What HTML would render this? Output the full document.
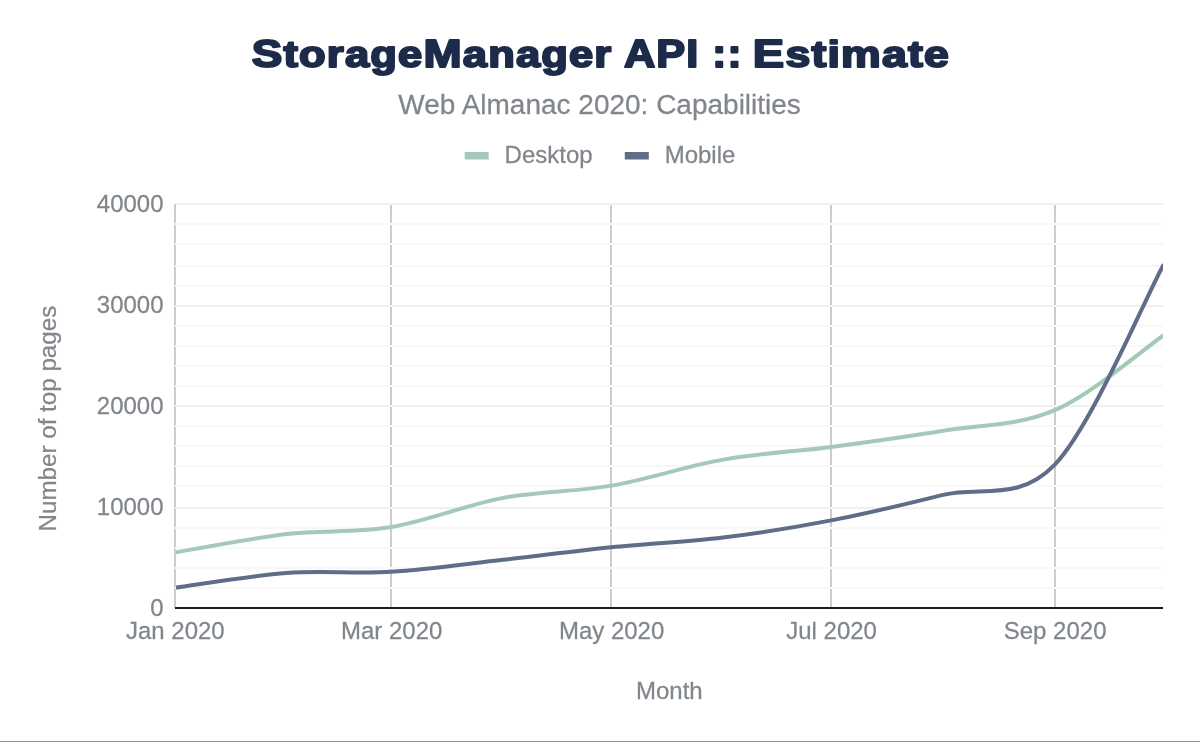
<!DOCTYPE html>
<html><head><meta charset="utf-8"><style>
html,body{margin:0;padding:0;background:#fff;}
body{width:1200px;height:742px;overflow:hidden;position:relative;}
svg{position:absolute;left:0;top:0;will-change:transform;}
text{font-family:"Liberation Sans",sans-serif;}
</style></head><body>
<svg width="1200" height="742" viewBox="0 0 1200 742">
<rect x="0" y="0" width="1200" height="742" fill="#fff"/>
<text transform="translate(251.63,67.3) scale(1.1760,1)" x="0" y="0" font-size="37" font-weight="bold" fill="#1c2b49" stroke="#1c2b49" stroke-width="2.0" stroke-linejoin="round" letter-spacing="1.0"><tspan font-size="39">S</tspan>torage<tspan font-size="39">M</tspan>anager</text>
<text transform="translate(623.96,67.3) scale(1.1104,1)" x="0" y="0" font-size="37" font-weight="bold" fill="#1c2b49" stroke="#1c2b49" stroke-width="2.0" stroke-linejoin="round" letter-spacing="1.0"><tspan font-size="39">A</tspan><tspan font-size="39">P</tspan><tspan font-size="39">I</tspan></text>
<text transform="translate(712.35,67.3) scale(1.0743,1)" x="0" y="0" font-size="37" font-weight="bold" fill="#1c2b49" stroke="#1c2b49" stroke-width="2.0" stroke-linejoin="round" letter-spacing="1.0"><tspan font-size="39">:</tspan><tspan font-size="39">:</tspan></text>
<text transform="translate(752.81,67.3) scale(1.2060,1)" x="0" y="0" font-size="37" font-weight="bold" fill="#1c2b49" stroke="#1c2b49" stroke-width="2.0" stroke-linejoin="round" letter-spacing="1.0"><tspan font-size="39">E</tspan>stimate</text>

<g fill="#80868b" stroke="#80868b" stroke-width="0.25"><text transform="translate(599.60,114.00) scale(0.9852,1)" x="0" y="0" font-size="28.42" text-anchor="middle">Web Almanac 2020: Capabilities</text></g>
<rect x="464.7" y="152" width="24" height="7.5" fill="#a5c9b8"/>
<g fill="#80868b" stroke="#80868b" stroke-width="0.25"><text transform="translate(504.60,162.60) scale(0.9852,1)" x="0" y="0" font-size="24.36" text-anchor="start">Desktop</text></g>
<rect x="624.8" y="152" width="24" height="7.5" fill="#5f6d88"/>
<g fill="#80868b" stroke="#80868b" stroke-width="0.25"><text transform="translate(664.70,162.60) scale(0.9852,1)" x="0" y="0" font-size="24.36" text-anchor="start">Mobile</text></g>
<g stroke="#c9cdcc" stroke-width="2"><line x1="391.00" x2="391.00" y1="204.0" y2="608.0"/><line x1="611.00" x2="611.00" y1="204.0" y2="608.0"/><line x1="831.00" x2="831.00" y1="204.0" y2="608.0"/><line x1="1055.00" x2="1055.00" y1="204.0" y2="608.0"/></g>
<g stroke="#f7f7f7" stroke-width="2"><line x1="175.0" x2="1163.0" y1="588" y2="588"/><line x1="175.0" x2="1163.0" y1="568" y2="568"/><line x1="175.0" x2="1163.0" y1="548" y2="548"/><line x1="175.0" x2="1163.0" y1="528" y2="528"/><line x1="175.0" x2="1163.0" y1="486" y2="486"/><line x1="175.0" x2="1163.0" y1="466" y2="466"/><line x1="175.0" x2="1163.0" y1="446" y2="446"/><line x1="175.0" x2="1163.0" y1="426" y2="426"/><line x1="175.0" x2="1163.0" y1="386" y2="386"/><line x1="175.0" x2="1163.0" y1="366" y2="366"/><line x1="175.0" x2="1163.0" y1="346" y2="346"/><line x1="175.0" x2="1163.0" y1="326" y2="326"/><line x1="175.0" x2="1163.0" y1="286" y2="286"/><line x1="175.0" x2="1163.0" y1="266" y2="266"/><line x1="175.0" x2="1163.0" y1="244" y2="244"/><line x1="175.0" x2="1163.0" y1="224" y2="224"/></g>
<g stroke="#eff0f0" stroke-width="2"><line x1="175.0" x2="1163.0" y1="508" y2="508"/><line x1="175.0" x2="1163.0" y1="406" y2="406"/><line x1="175.0" x2="1163.0" y1="306" y2="306"/><line x1="175.0" x2="1163.0" y1="204" y2="204"/></g>
<line x1="175.0" x2="175.0" y1="204.0" y2="608.0" stroke="#c9cdcc" stroke-width="2"/>
<rect x="390" y="587" width="2" height="2" fill="#fdfdfd"/><rect x="610" y="587" width="2" height="2" fill="#fdfdfd"/><rect x="830" y="587" width="2" height="2" fill="#fdfdfd"/><rect x="1054" y="587" width="2" height="2" fill="#fdfdfd"/><rect x="175" y="587" width="1" height="2" fill="#fdfdfd"/><rect x="390" y="567" width="2" height="2" fill="#fdfdfd"/><rect x="610" y="567" width="2" height="2" fill="#fdfdfd"/><rect x="830" y="567" width="2" height="2" fill="#fdfdfd"/><rect x="1054" y="567" width="2" height="2" fill="#fdfdfd"/><rect x="175" y="567" width="1" height="2" fill="#fdfdfd"/><rect x="390" y="547" width="2" height="2" fill="#fdfdfd"/><rect x="610" y="547" width="2" height="2" fill="#fdfdfd"/><rect x="830" y="547" width="2" height="2" fill="#fdfdfd"/><rect x="1054" y="547" width="2" height="2" fill="#fdfdfd"/><rect x="175" y="547" width="1" height="2" fill="#fdfdfd"/><rect x="390" y="527" width="2" height="2" fill="#fdfdfd"/><rect x="610" y="527" width="2" height="2" fill="#fdfdfd"/><rect x="830" y="527" width="2" height="2" fill="#fdfdfd"/><rect x="1054" y="527" width="2" height="2" fill="#fdfdfd"/><rect x="175" y="527" width="1" height="2" fill="#fdfdfd"/><rect x="390" y="507" width="2" height="2" fill="#f5f6f6"/><rect x="610" y="507" width="2" height="2" fill="#f5f6f6"/><rect x="830" y="507" width="2" height="2" fill="#f5f6f6"/><rect x="1054" y="507" width="2" height="2" fill="#f5f6f6"/><rect x="175" y="507" width="1" height="2" fill="#f5f6f6"/><rect x="390" y="485" width="2" height="2" fill="#fdfdfd"/><rect x="610" y="485" width="2" height="2" fill="#fdfdfd"/><rect x="830" y="485" width="2" height="2" fill="#fdfdfd"/><rect x="1054" y="485" width="2" height="2" fill="#fdfdfd"/><rect x="175" y="485" width="1" height="2" fill="#fdfdfd"/><rect x="390" y="465" width="2" height="2" fill="#fdfdfd"/><rect x="610" y="465" width="2" height="2" fill="#fdfdfd"/><rect x="830" y="465" width="2" height="2" fill="#fdfdfd"/><rect x="1054" y="465" width="2" height="2" fill="#fdfdfd"/><rect x="175" y="465" width="1" height="2" fill="#fdfdfd"/><rect x="390" y="445" width="2" height="2" fill="#fdfdfd"/><rect x="610" y="445" width="2" height="2" fill="#fdfdfd"/><rect x="830" y="445" width="2" height="2" fill="#fdfdfd"/><rect x="1054" y="445" width="2" height="2" fill="#fdfdfd"/><rect x="175" y="445" width="1" height="2" fill="#fdfdfd"/><rect x="390" y="425" width="2" height="2" fill="#fdfdfd"/><rect x="610" y="425" width="2" height="2" fill="#fdfdfd"/><rect x="830" y="425" width="2" height="2" fill="#fdfdfd"/><rect x="1054" y="425" width="2" height="2" fill="#fdfdfd"/><rect x="175" y="425" width="1" height="2" fill="#fdfdfd"/><rect x="390" y="405" width="2" height="2" fill="#f5f6f6"/><rect x="610" y="405" width="2" height="2" fill="#f5f6f6"/><rect x="830" y="405" width="2" height="2" fill="#f5f6f6"/><rect x="1054" y="405" width="2" height="2" fill="#f5f6f6"/><rect x="175" y="405" width="1" height="2" fill="#f5f6f6"/><rect x="390" y="385" width="2" height="2" fill="#fdfdfd"/><rect x="610" y="385" width="2" height="2" fill="#fdfdfd"/><rect x="830" y="385" width="2" height="2" fill="#fdfdfd"/><rect x="1054" y="385" width="2" height="2" fill="#fdfdfd"/><rect x="175" y="385" width="1" height="2" fill="#fdfdfd"/><rect x="390" y="365" width="2" height="2" fill="#fdfdfd"/><rect x="610" y="365" width="2" height="2" fill="#fdfdfd"/><rect x="830" y="365" width="2" height="2" fill="#fdfdfd"/><rect x="1054" y="365" width="2" height="2" fill="#fdfdfd"/><rect x="175" y="365" width="1" height="2" fill="#fdfdfd"/><rect x="390" y="345" width="2" height="2" fill="#fdfdfd"/><rect x="610" y="345" width="2" height="2" fill="#fdfdfd"/><rect x="830" y="345" width="2" height="2" fill="#fdfdfd"/><rect x="1054" y="345" width="2" height="2" fill="#fdfdfd"/><rect x="175" y="345" width="1" height="2" fill="#fdfdfd"/><rect x="390" y="325" width="2" height="2" fill="#fdfdfd"/><rect x="610" y="325" width="2" height="2" fill="#fdfdfd"/><rect x="830" y="325" width="2" height="2" fill="#fdfdfd"/><rect x="1054" y="325" width="2" height="2" fill="#fdfdfd"/><rect x="175" y="325" width="1" height="2" fill="#fdfdfd"/><rect x="390" y="305" width="2" height="2" fill="#f5f6f6"/><rect x="610" y="305" width="2" height="2" fill="#f5f6f6"/><rect x="830" y="305" width="2" height="2" fill="#f5f6f6"/><rect x="1054" y="305" width="2" height="2" fill="#f5f6f6"/><rect x="175" y="305" width="1" height="2" fill="#f5f6f6"/><rect x="390" y="285" width="2" height="2" fill="#fdfdfd"/><rect x="610" y="285" width="2" height="2" fill="#fdfdfd"/><rect x="830" y="285" width="2" height="2" fill="#fdfdfd"/><rect x="1054" y="285" width="2" height="2" fill="#fdfdfd"/><rect x="175" y="285" width="1" height="2" fill="#fdfdfd"/><rect x="390" y="265" width="2" height="2" fill="#fdfdfd"/><rect x="610" y="265" width="2" height="2" fill="#fdfdfd"/><rect x="830" y="265" width="2" height="2" fill="#fdfdfd"/><rect x="1054" y="265" width="2" height="2" fill="#fdfdfd"/><rect x="175" y="265" width="1" height="2" fill="#fdfdfd"/><rect x="390" y="243" width="2" height="2" fill="#fdfdfd"/><rect x="610" y="243" width="2" height="2" fill="#fdfdfd"/><rect x="830" y="243" width="2" height="2" fill="#fdfdfd"/><rect x="1054" y="243" width="2" height="2" fill="#fdfdfd"/><rect x="175" y="243" width="1" height="2" fill="#fdfdfd"/><rect x="390" y="223" width="2" height="2" fill="#fdfdfd"/><rect x="610" y="223" width="2" height="2" fill="#fdfdfd"/><rect x="830" y="223" width="2" height="2" fill="#fdfdfd"/><rect x="1054" y="223" width="2" height="2" fill="#fdfdfd"/><rect x="175" y="223" width="1" height="2" fill="#fdfdfd"/><rect x="390" y="203" width="2" height="2" fill="#f5f6f6"/><rect x="610" y="203" width="2" height="2" fill="#f5f6f6"/><rect x="830" y="203" width="2" height="2" fill="#f5f6f6"/><rect x="1054" y="203" width="2" height="2" fill="#f5f6f6"/>
<g fill="#80868b" stroke="#80868b" stroke-width="0.25"><text transform="translate(163.50,615.60) scale(0.9852,1)" x="0" y="0" font-size="24.36" text-anchor="end">0</text><text transform="translate(163.50,514.60) scale(0.9852,1)" x="0" y="0" font-size="24.36" text-anchor="end">10000</text><text transform="translate(163.50,413.60) scale(0.9852,1)" x="0" y="0" font-size="24.36" text-anchor="end">20000</text><text transform="translate(163.50,312.60) scale(0.9852,1)" x="0" y="0" font-size="24.36" text-anchor="end">30000</text><text transform="translate(163.50,211.60) scale(0.9852,1)" x="0" y="0" font-size="24.36" text-anchor="end">40000</text><text transform="translate(175.30,639.20) scale(0.9852,1)" x="0" y="0" font-size="24.36" text-anchor="middle">Jan 2020</text><text transform="translate(391.65,639.20) scale(0.9852,1)" x="0" y="0" font-size="24.36" text-anchor="middle">Mar 2020</text><text transform="translate(611.61,639.20) scale(0.9852,1)" x="0" y="0" font-size="24.36" text-anchor="middle">May 2020</text><text transform="translate(831.56,639.20) scale(0.9852,1)" x="0" y="0" font-size="24.36" text-anchor="middle">Jul 2020</text><text transform="translate(1055.12,639.20) scale(0.9852,1)" x="0" y="0" font-size="24.36" text-anchor="middle">Sep 2020</text>
<text transform="translate(669.30,699.00) scale(0.9852,1)" x="0" y="0" font-size="24.36" text-anchor="middle">Month</text>
<text transform="translate(56.30,418.60) rotate(-90) scale(0.9852,1)" x="0" y="0" font-size="24.56" text-anchor="middle">Number of top pages</text>
</g>
<line x1="175.0" x2="1163.0" y1="608.0" y2="608.0" stroke="#1e1e1e" stroke-width="2"/>
<defs><clipPath id="pc"><rect x="176" y="150" width="987.0" height="470"/></clipPath></defs>
<g clip-path="url(#pc)">
<path d="M175.00,552.40 C193.63,549.35 250.72,538.33 286.78,534.10 C322.84,529.87 355.29,533.04 391.35,527.00 C427.41,520.96 466.47,504.74 503.13,497.85 C539.79,490.96 574.65,492.02 611.31,485.65 C647.97,479.28 686.43,466.11 723.09,459.65 C759.75,453.19 794.60,451.72 831.26,446.90 C867.92,442.07 905.78,436.82 943.04,430.70 C980.30,424.58 1018.17,426.03 1054.82,410.20 C1091.48,394.37 1144.97,348.12 1163.00,335.70" fill="none" stroke="#a5c9b8" stroke-width="4" stroke-linecap="round" stroke-linejoin="round"/>
<path d="M175.00,587.70 C193.63,585.25 250.72,575.61 286.78,572.97 C322.84,570.33 355.29,574.05 391.35,571.85 C427.41,569.65 466.47,563.90 503.13,559.80 C539.79,555.70 574.65,550.96 611.31,547.24 C647.97,543.52 686.43,541.97 723.09,537.50 C759.75,533.03 794.60,527.51 831.26,520.40 C867.92,513.29 905.78,504.14 943.04,494.84 C980.30,485.54 1018.17,502.81 1054.82,464.60 C1091.48,426.39 1144.97,298.77 1163.00,265.60" fill="none" stroke="#5f6d88" stroke-width="4" stroke-linecap="round" stroke-linejoin="round"/>
</g>
<rect x="0" y="741" width="1200" height="1" fill="#8a8d92"/>
</svg>
</body></html>
